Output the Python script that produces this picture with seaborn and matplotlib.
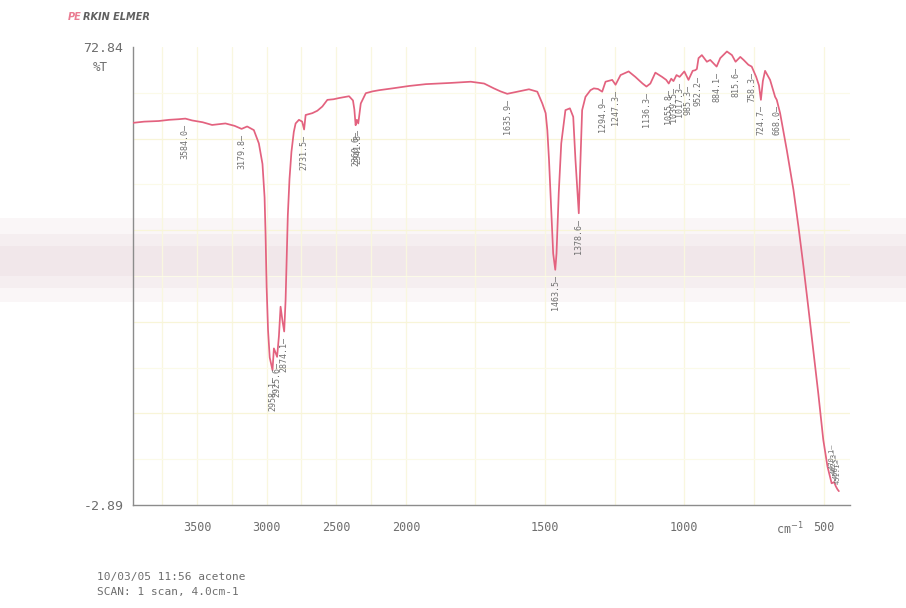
import numpy as np
import pandas as pd
import matplotlib
matplotlib.use("Agg")
import matplotlib.pyplot as plt
import seaborn as sns
from matplotlib.patches import Rectangle

# ---------------- data ----------------
wavenumber = [3960, 3880, 3776, 3700, 3632, 3584, 3536, 3460, 3392, 3296, 3230, 3180,
              3140, 3092, 3056, 3030, 3015, 3008, 3000, 2990, 2978, 2958, 2948, 2936,
              2925, 2912, 2900, 2886, 2874, 2864, 2856, 2848, 2836, 2822, 2805, 2792,
              2768, 2745, 2731, 2720, 2672, 2636, 2600, 2564, 2520, 2480, 2408, 2380,
              2370, 2361, 2352, 2342, 2330, 2324, 2288, 2240, 2192, 2096, 1988, 1928,
              1839, 1767, 1719, 1684, 1660, 1636, 1600, 1558, 1528, 1510, 1498, 1492,
              1486, 1478, 1471, 1463.5, 1459, 1451, 1442, 1427, 1411, 1399, 1391, 1379,
              1375, 1367, 1355, 1337, 1325, 1310, 1295, 1283, 1259, 1247, 1229, 1200,
              1176, 1150, 1136, 1122, 1104, 1080, 1065, 1056, 1047, 1039, 1028, 1017,
              1000, 985, 970, 961, 955, 949, 937, 919, 907, 884, 871, 847, 829, 816,
              799, 787, 770, 758, 742, 732, 725, 718, 710, 692, 674, 668, 656, 632,
              608, 590, 572, 555, 537, 519, 501, 486, 471, 462, 456, 450, 445]
transmittance = [60.3, 60.5, 60.6, 60.8, 60.9, 61.0, 60.7, 60.4, 59.95, 60.2, 59.8, 59.3,
                 59.7, 59.1, 56.9, 53.5, 48.0, 42.0, 33.0, 26.0, 21.5, 19.4, 23.0, 22.3,
                 21.6, 25.0, 29.9, 27.5, 25.8, 31.0, 38.0, 45.0, 51.0, 55.5, 58.8, 60.2,
                 60.8, 60.5, 59.2, 61.6, 61.9, 62.3, 63.0, 64.1, 64.2, 64.4, 64.7, 64.0,
                 62.5, 59.9, 60.8, 60.2, 62.5, 63.5, 65.2, 65.5, 65.7, 66.0, 66.4, 66.7,
                 66.9, 67.1, 66.8, 66.0, 65.5, 65.1, 65.45, 65.85, 65.45, 63.5, 61.9, 59.1,
                 54.2, 45.9, 38.7, 36.0, 38.7, 48.7, 56.9, 62.4, 62.7, 61.3, 54.2, 45.35,
                 51.4, 62.4, 64.6, 65.7, 66.0, 65.9, 65.45, 67.1, 67.4, 66.6, 68.2, 68.8,
                 67.9, 66.8, 66.3, 66.8, 68.6, 67.9, 67.4, 66.8, 67.6, 67.2, 68.2, 67.9,
                 68.8, 67.4, 68.9, 69.0, 69.2, 71.0, 71.5, 70.4, 70.7, 69.6, 71.0, 72.1,
                 71.5, 70.4, 71.2, 70.7, 69.9, 69.6, 67.9, 66.5, 64.1, 67.2, 68.9, 67.4,
                 64.6, 64.1, 61.9, 55.8, 49.2, 43.1, 36.5, 29.9, 22.75, 15.6, 7.9, 3.5,
                 0.7, 0.9, 0.2, -0.3, -0.6]

peak_labels = ["3584.0", "3179.8", "2958.1", "2925.6", "2874.1", "2731.5", "2360.6",
               "2341.8", "1635.9", "1463.5", "1378.6", "1294.9", "1247.3", "1136.3",
               "1055.8", "1039.5", "1017.3", "985.3", "952.2", "884.1", "815.6",
               "758.3", "724.7", "668.0"]
peak_wn = [3584.0, 3179.8, 2958.1, 2925.6, 2874.1, 2731.5, 2360.6, 2341.8, 1635.9,
           1463.5, 1378.6, 1294.9, 1247.3, 1136.3, 1055.8, 1039.5, 1017.3, 985.3,
           952.2, 884.1, 815.6, 758.3, 724.7, 668.0]
peak_T = [61.0, 59.3, 19.4, 21.6, 25.8, 59.2, 59.9, 60.2, 65.1, 36.0, 45.35, 65.45,
          66.6, 66.3, 66.8, 67.2, 67.9, 67.4, 69.0, 69.6, 70.4, 69.6, 64.1, 64.1]

cluster_labels = ["470.1", "462.3", "456.5", "451.1"]
cluster_wn = [472.0, 464.0, 457.0, 450.0]
cluster_T = [7.2, 6.4, 5.6, 4.8]

x_ticks = [3500, 3000, 2500, 2000, 1500, 1000, 500]
y_top, y_bottom = 72.84, -2.89
x_left, x_right = 3960, 405

# ---------------- styling ----------------
sns.set_style("white")
plt.rcParams["font.family"] = ["DejaVu Sans Mono", "DejaVu Sans"]

W, H = 906, 608
fig = plt.figure(figsize=(W / 100, H / 100), dpi=100)
fig.patch.set_facecolor("white")

# faint scanner band (background artefact)
for (y0, y1, a) in [(218, 302, 0.18), (234, 288, 0.22), (246, 276, 0.22)]:
    fig.patches.append(Rectangle((0, 1 - y1 / H), 1, (y1 - y0) / H, transform=fig.transFigure,
                                 facecolor="#e6d2d8", edgecolor="none", alpha=a, zorder=-5))

ax = fig.add_axes([133 / W, 1 - 505 / H, (850 - 133) / W, (505 - 47) / H])
ax.set_facecolor("none")
ax.set_zorder(2)


def fwd(x):
    x = np.asarray(x, dtype=float)
    return np.where(x > 2000, 2000 + (x - 2000) / 2.0, x)


def inv(u):
    u = np.asarray(u, dtype=float)
    return np.where(u > 2000, 2000 + (u - 2000) * 2.0, u)


ax.set_xscale("function", functions=(fwd, inv))

df = pd.DataFrame({"wn": wavenumber, "T": transmittance})
sns.lineplot(data=df, x="wn", y="T", sort=False, estimator=None, color="#e3627f",
             linewidth=1.25, ax=ax, zorder=3)

ax.set_xlim(x_left, x_right)
ax.set_ylim(y_bottom, y_top)

# very faint chart-paper grid
grid_x = [3750, 3500, 3250, 3000, 2750, 2500, 2250, 2000, 1750, 1500, 1250, 1000, 750, 500]
for gx in grid_x:
    ax.axvline(gx, color="#f9f7df", lw=0.9, zorder=1)
y_step = (y_top - y_bottom) / 5
y_ticks = [y_top - k * y_step for k in range(6)]
for gy in y_ticks[1:-1]:
    ax.axhline(gy, color="#f8f5d8", lw=0.9, zorder=1)
for k in range(5):
    ax.axhline(y_ticks[k] - y_step / 2, color="#fbfae8", lw=0.8, zorder=1)

for s in ["top", "right"]:
    ax.spines[s].set_visible(False)
for s in ["left", "bottom"]:
    ax.spines[s].set_color("#8c8c8c")
    ax.spines[s].set_linewidth(1.0)

ax.set_xticks(x_ticks)
ax.set_xticklabels([str(t) for t in x_ticks])
ax.set_yticks(y_ticks + [0.0])
ax.set_yticklabels(["72.84", "", "", "", "", "-2.89", ""])
ax.tick_params(axis="x", direction="inout", length=7, width=0.9, color="#8c8c8c",
               labelsize=8.5, labelcolor="#6e6e6e", pad=8)
ax.tick_params(axis="y", direction="out", length=6, width=0.9, color="#8c8c8c",
               labelsize=9.5, labelcolor="#6e6e6e", pad=1)
ax.xaxis.set_minor_locator(matplotlib.ticker.NullLocator())
ax.set_xlabel("")
ax.set_ylabel("")

# axis captions
ax.text(-0.045, 0.955, "%T", transform=ax.transAxes, ha="center", va="center",
        fontsize=9, color="#6e6e6e")
ax.annotate("cm$^{-1}$", xy=(620, y_bottom), xycoords="data", xytext=(0, -17),
            textcoords="offset points", ha="center", va="center", fontsize=8.5,
            color="#6e6e6e", annotation_clip=False)

# peak labels
for lab, wn, t in zip(peak_labels, peak_wn, peak_T):
    ax.annotate(lab + "—", xy=(wn, t), xytext=(0, -4), textcoords="offset points",
                rotation=90, ha="center", va="top", fontsize=6, color="#707070", zorder=4)
for lab, wn, t in zip(cluster_labels, cluster_wn, cluster_T):
    ax.annotate(lab + "—", xy=(wn, t), xytext=(0, 0), textcoords="offset points",
                rotation=90, ha="center", va="top", fontsize=5, color="#707070", zorder=4)

# header and footer
fig.text(68 / W, 1 - 17 / H, "PE", ha="left", va="center", fontsize=7,
         fontweight="bold", fontstyle="italic", color="#ea7c92", family="DejaVu Sans")
fig.text(83 / W, 1 - 17 / H, "RKIN ELMER", ha="left", va="center", fontsize=7,
         fontweight="bold", fontstyle="italic", color="#606060", family="DejaVu Sans")
fig.text(97 / W, 1 - 577 / H, "10/03/05 11:56 acetone", ha="left", va="center",
         fontsize=8, color="#6e6e6e")
fig.text(97 / W, 1 - 592 / H, "SCAN: 1 scan, 4.0cm-1", ha="left", va="center",
         fontsize=8, color="#6e6e6e")

fig.savefig("out.png", dpi=100)
